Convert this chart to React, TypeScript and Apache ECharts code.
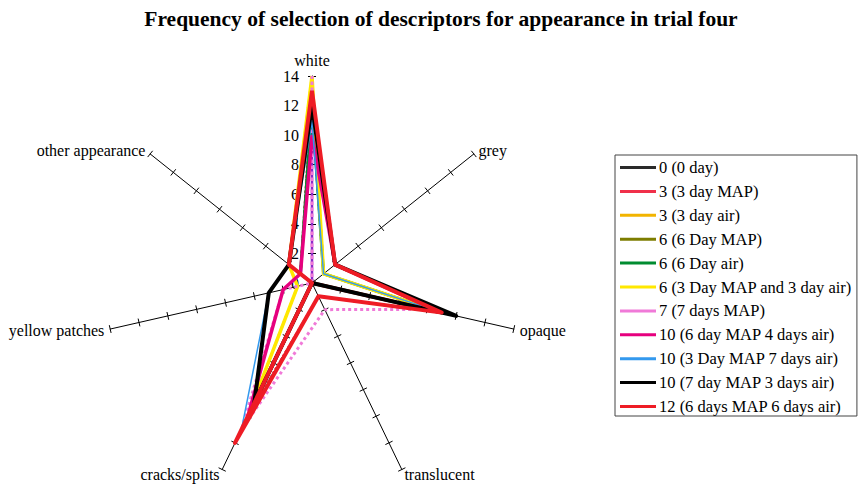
import React, { useEffect, useRef } from 'react';
import * as echarts from 'echarts';

const FONT = '"Liberation Serif", "Times New Roman", serif';

const titleText = 'Frequency of selection of descriptors for appearance in trial four';
// axes listed clockwise from the top, as in the picture
const axes = ['white', 'grey', 'opaque', 'translucent', 'cracks/splits', 'yellow patches', 'other appearance'];
const axisMax = 14;
const splitCount = 7;

// values in axis order: white, grey, opaque, translucent, cracks/splits, yellow patches, other appearance
const day0 = [13, 1, 9, 1, 10, 0, 1];
const map3 = [13, 1, 9, 1, 10, 0, 1];
const air3 = [14, 1, 9, 0, 10, 1, 2];
const map6 = [12, 1, 9, 0, 9, 0, 1];
const air6 = [12, 1, 9, 0, 9, 0, 1];
const map3air3 = [14, 1, 9, 0, 10, 1, 2];
const map7 = [14, 0, 8, 2, 11, 2, 0];
const map6air4 = [10, 2, 9, 0, 10, 2, 1];
const map3air7 = [11, 1, 9, 0, 11, 3, 2];
const map7air3 = [12, 2, 10, 0, 9, 3, 2];
const map6air6 = [13, 2, 9, 1, 12, 0, 2];
const unlabelled = [11, 0, 8, 0, 9, 0, 0];

const seriesNames = [
  '0 (0 day)',
  '3 (3 day MAP)',
  '3 (3 day air)',
  '6 (6 Day MAP)',
  '6 (6 Day air)',
  '6 (3 Day MAP and 3 day air)',
  '7 (7 days MAP)',
  '10 (6 day MAP 4 days air)',
  '10 (3 Day MAP 7 days air)',
  '10 (7 day MAP 3 days air)',
  '12 (6 days MAP 6 days air)',
];
const seriesValues = [day0, map3, air3, map6, air6, map3air3, map7, map6air4, map3air7, map7air3, map6air6];

const styles = [
  { color: '#2a2a2a', width: 2, type: 'dotted' },
  { color: '#f0304a', width: 2.5, type: 'dotted' },
  { color: '#f2b400', width: 2.5, type: 'dotted' },
  { color: '#7d7d00', width: 2.5, type: 'dotted' },
  { color: '#008c30', width: 3, type: 'solid' },
  { color: '#ffe800', width: 3.5, type: 'solid' },
  { color: '#f07ad8', width: 3, type: 'dotted' },
  { color: '#e6007e', width: 3.5, type: 'solid' },
  { color: '#3399ee', width: 1.5, type: 'solid' },
  { color: '#000000', width: 4, type: 'solid' },
  { color: '#ee1c25', width: 4, type: 'solid' },
];

// ECharts lays radar indicators counter-clockwise; reorder so they run clockwise
const order = axes.map((_, i) => (i === 0 ? 0 : axes.length - i));
const reorder = (arr: any[]) => order.map((k) => arr[k]);

export default function App() {
  const ref = useRef<HTMLDivElement>(null);
  useEffect(() => {
    if (!ref.current) return;
    const chart = echarts.init(ref.current, null, { renderer: 'svg' });
    const indicator = reorder(axes).map((name: string, i: number) => ({
      name,
      min: 0,
      max: axisMax,
      ...(i === 0 ? { axisLabel: { show: true } } : {}),
    }));
    const radarBase = {
      center: [312, 283],
      radius: 207,
      startAngle: 90,
      splitNumber: splitCount,
      shape: 'polygon',
      splitLine: { show: false },
      splitArea: { show: false },
    };
    const series: any[] = [
      {
        type: 'radar',
        name: 'purple',
        radarIndex: 0,
        symbol: 'none',
        lineStyle: { color: '#8e2bc9', width: 2.5 },
        itemStyle: { color: '#8e2bc9' },
        data: [{ value: reorder(unlabelled), name: 'purple' }],
        z: 2,
      },
    ];
    seriesNames.forEach((name, i) => {
      const s = styles[i];
      series.push({
        type: 'radar',
        name,
        radarIndex: 0,
        symbol: 'none',
        lineStyle: { color: s.color, width: s.width, type: s.type },
        itemStyle: { color: s.color },
        data: [{ value: reorder(seriesValues[i]), name }],
        z: 3 + i,
      });
    });
    chart.setOption({
      animation: false,
      backgroundColor: '#ffffff',
      title: {
        text: titleText,
        left: 441,
        top: 8,
        textAlign: 'center',
        padding: 0,
        textStyle: { fontFamily: FONT, fontSize: 21.5, fontWeight: 'bold', color: '#000' },
      },
      legend: {
        orient: 'vertical',
        left: 615,
        top: 155,
        data: seriesNames,
        icon: 'rect',
        itemWidth: 36,
        itemHeight: 3,
        itemGap: 6.9,
        padding: [4, 5, 1, 5],
        borderColor: '#444',
        borderWidth: 1,
        selectedMode: false,
        textStyle: { color: '#000', fontFamily: FONT, fontSize: 16.5, lineHeight: 16, padding: [0, 0, 0, -2] },
      },
      radar: [
        {
          ...radarBase,
          indicator,
          axisName: { color: '#000', fontFamily: FONT, fontSize: 16 },
          nameGap: 6,
          axisLine: { show: true, lineStyle: { color: '#000', width: 1 } },
          axisTick: { show: true, length: 4, lineStyle: { color: '#000', width: 1 } },
          axisLabel: { show: false, color: '#000', fontFamily: FONT, fontSize: 16, margin: 13 },
        },
        {
          ...radarBase,
          indicator: reorder(axes).map((name: string) => ({ name, min: 0, max: axisMax })),
          axisName: { show: false },
          axisLine: { show: false },
          axisTick: { show: true, length: -4, lineStyle: { color: '#000', width: 1 } },
          axisLabel: { show: false },
        },
      ],
      series,
    });
    return () => chart.dispose();
  }, []);
  return (
    <div
      ref={ref}
      style={{ position: 'fixed', left: 0, top: 0, width: 861, height: 491, background: '#fff' }}
    />
  );
}
